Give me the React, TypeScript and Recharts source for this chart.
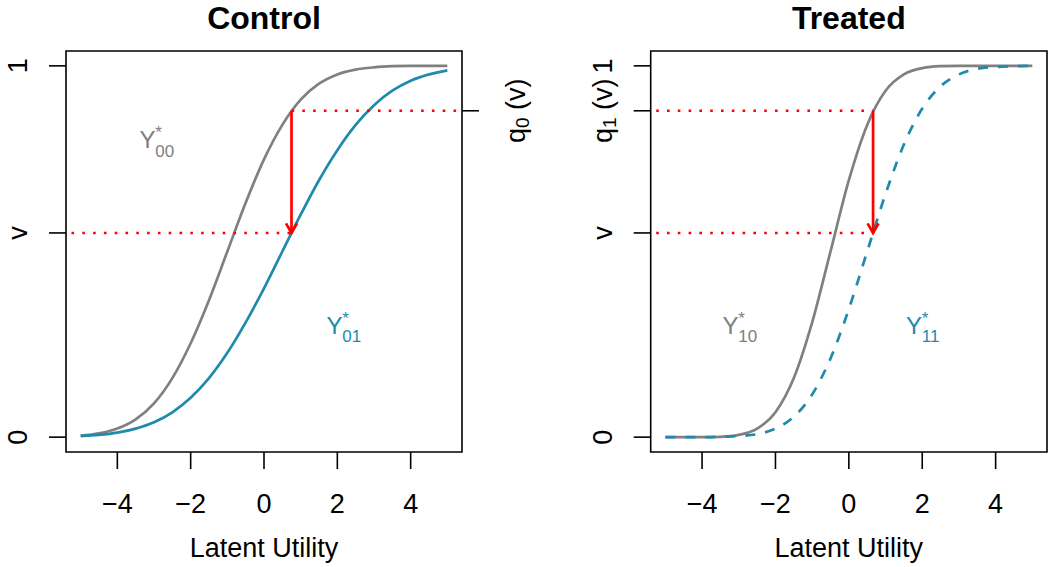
import React from 'react';
import { LineChart, Line, XAxis, YAxis, ReferenceLine, ReferenceArea, ReferenceDot } from 'recharts';

// latent utility grid
const xs = [-5, -4.5, -4, -3.5, -3, -2.5, -2, -1.5, -1, -0.5, 0, 0.5, 1, 1.5, 2, 2.5, 3, 3.5, 4, 4.5, 5];

// control group CDFs
const y00 = [0.004, 0.010, 0.023, 0.048, 0.091, 0.159, 0.253, 0.369, 0.500, 0.631, 0.748, 0.841, 0.909, 0.952, 0.977, 0.990, 0.996, 0.999, 1.0, 1.0, 1.0];
const y01 = [0.003, 0.006, 0.012, 0.023, 0.040, 0.067, 0.106, 0.159, 0.227, 0.309, 0.401, 0.500, 0.599, 0.692, 0.773, 0.841, 0.894, 0.933, 0.960, 0.977, 0.988];

// treated group CDFs
const y10 = [0.0, 0.0, 0.0, 0.001, 0.006, 0.023, 0.067, 0.159, 0.309, 0.500, 0.692, 0.841, 0.933, 0.977, 0.994, 0.999, 1.0, 1.0, 1.0, 1.0, 1.0];
const y11 = [0.0, 0.0, 0.0, 0.001, 0.003, 0.008, 0.023, 0.055, 0.115, 0.212, 0.345, 0.500, 0.655, 0.788, 0.885, 0.945, 0.977, 0.992, 0.997, 0.999, 1.0];

const xTicks = [-4, -2, 0, 2, 4];
const V = 0.55;
const Q0 = 0.879;
const Q1 = 0.879;
const arrowX0 = 0.75;
const arrowX1 = 0.66;
const lineStart = -5.25;
const lineEnd = 5.25;

const controlData = xs.map((x, i) => ({ x, y00: y00[i], y01: y01[i] }));
const treatedData = xs.map((x, i) => ({ x, y10: y10[i], y11: y11[i] }));

const FONT = '"Liberation Sans", Arial, Helvetica, sans-serif';
const GRAY = '#808080';
const BLUE = '#1f8aab';
const RED = '#ff0000';
const XDOM: [number, number] = [-5.4, 5.4];
const YDOM: [number, number] = [-0.04, 1.04];

const fmtX = (v: number) => (v < 0 ? '\u2212' + Math.abs(v) : String(v));

const XTick = (props: any) => {
  const { x, y, payload } = props;
  return (
    <text x={x} y={y + 44} textAnchor="middle" fontSize={27} fill="#000">
      {fmtX(payload.value)}
    </text>
  );
};

const yLabel = (value: number, sub: string) => {
  if (value === 0) return <tspan>0</tspan>;
  if (value === 1) return <tspan>1</tspan>;
  if (value === V) return <tspan>v</tspan>;
  return (
    <>
      <tspan>q</tspan>
      <tspan fontSize={19} dy={4}>{sub}</tspan>
      <tspan dy={-4}> (v)</tspan>
    </>
  );
};

const makeYTick = (shift: number, sub: string) => (props: any) => {
  const { x, y, payload } = props;
  const bx = x + shift;
  return (
    <text x={bx} y={y} textAnchor="middle" fontSize={27} fill="#000" transform={`rotate(-90, ${bx}, ${y})`}>
      {yLabel(payload.value, sub)}
    </text>
  );
};

const Arrow = (props: any) => {
  const { x1, y1, x2, y2 } = props;
  return (
    <g stroke={RED} strokeWidth={2.7} fill="none">
      <line x1={x1} y1={y1} x2={x2} y2={y2} />
      <polyline points={`${x2 - 5.5},${y2 - 9.5} ${x2},${y2} ${x2 + 5.5},${y2 - 9.5}`} />
    </g>
  );
};

const curveLabel = (sub: string, color: string) => (props: any) => {
  const { cx, cy } = props;
  return (
    <g fill={color}>
      <text x={cx - 16.3} y={cy + 8.2} fontSize={24}>Y</text>
      <text x={cx - 0.5} y={cy + 16.6} fontSize={17}>{sub}</text>
      <text x={cx - 0.5} y={cy - 2} fontSize={17}>*</text>
    </g>
  );
};

const dotted = { stroke: RED, strokeWidth: 2.6, strokeDasharray: '2.6 8.2' };

const boxArea = (
  <ReferenceArea yAxisId="l" x1={XDOM[0]} x2={XDOM[1]} y1={YDOM[0]} y2={YDOM[1]} fill="none" stroke="#000" strokeWidth={1.6} ifOverflow="visible" />
);

const xAxisEl = (
  <XAxis
    dataKey="x"
    type="number"
    domain={XDOM}
    ticks={xTicks}
    allowDataOverflow
    axisLine={false}
    tickSize={17}
    tickMargin={0}
    tickLine={{ stroke: '#000', strokeWidth: 1.6 }}
    tick={XTick}
    height={115}
    label={{ value: 'Latent Utility', position: 'insideBottom', offset: 10, fontSize: 27, fill: '#000' }}
  />
);

const ControlPanel = () => (
  <LineChart width={555} height={567} data={controlData} margin={{ top: 51, right: 30, bottom: 0, left: 0 }}>
    {xAxisEl}
    <YAxis yAxisId="l" type="number" domain={YDOM} ticks={[0, V, 1]} allowDataOverflow axisLine={false} tickSize={17} tickMargin={0}
      tickLine={{ stroke: '#000', strokeWidth: 1.6 }} tick={makeYTick(-22, '0')} width={66} />
    <YAxis yAxisId="r" orientation="right" type="number" domain={YDOM} ticks={[Q0]} allowDataOverflow axisLine={false} tickSize={17} tickMargin={0}
      tickLine={{ stroke: '#000', strokeWidth: 1.6 }} tick={makeYTick(46, '0')} width={63} />
    <Line yAxisId="l" dataKey="y00" type="monotone" stroke={GRAY} strokeWidth={2.7} dot={false} activeDot={false} isAnimationActive={false} />
    <Line yAxisId="l" dataKey="y01" type="monotone" stroke={BLUE} strokeWidth={2.7} dot={false} activeDot={false} isAnimationActive={false} />
    <ReferenceLine yAxisId="l" segment={[{ x: lineStart, y: V }, { x: arrowX0, y: V }]} {...dotted} />
    <ReferenceLine yAxisId="l" segment={[{ x: arrowX0, y: Q0 }, { x: lineEnd, y: Q0 }]} {...dotted} />
    <ReferenceLine yAxisId="l" segment={[{ x: arrowX0, y: Q0 }, { x: arrowX0, y: V }]} shape={Arrow} />
    <ReferenceDot yAxisId="l" x={-2.95} y={0.8} r={0} shape={curveLabel('00', GRAY)} />
    <ReferenceDot yAxisId="l" x={2.15} y={0.3} r={0} shape={curveLabel('01', BLUE)} />
    {boxArea}
    <text x={264} y={29} textAnchor="middle" fontSize={32} fontWeight="bold" fill="#000">Control</text>
  </LineChart>
);

const TreatedPanel = () => (
  <LineChart width={525} height={567} data={treatedData} margin={{ top: 51, right: 3, bottom: 0, left: 0 }}>
    {xAxisEl}
    <YAxis yAxisId="l" type="number" domain={YDOM} ticks={[0, V, Q1, 1]} allowDataOverflow axisLine={false} tickSize={17} tickMargin={0}
      tickLine={{ stroke: '#000', strokeWidth: 1.6 }} tick={makeYTick(-22, '1')} width={125.7} />
    <Line yAxisId="l" dataKey="y10" type="monotone" stroke={GRAY} strokeWidth={2.7} dot={false} activeDot={false} isAnimationActive={false} />
    <Line yAxisId="l" dataKey="y11" type="monotone" stroke={BLUE} strokeWidth={2.7} strokeDasharray="10 10" dot={false} activeDot={false} isAnimationActive={false} />
    <ReferenceLine yAxisId="l" segment={[{ x: lineStart, y: V }, { x: arrowX1, y: V }]} {...dotted} />
    <ReferenceLine yAxisId="l" segment={[{ x: lineStart, y: Q1 }, { x: arrowX1, y: Q1 }]} {...dotted} />
    <ReferenceLine yAxisId="l" segment={[{ x: arrowX1, y: Q1 }, { x: arrowX1, y: V }]} shape={Arrow} />
    <ReferenceDot yAxisId="l" x={-3} y={0.3} r={0} shape={curveLabel('10', GRAY)} />
    <ReferenceDot yAxisId="l" x={2} y={0.3} r={0} shape={curveLabel('11', BLUE)} />
    {boxArea}
    <text x={323.8} y={29} textAnchor="middle" fontSize={32} fontWeight="bold" fill="#000">Treated</text>
  </LineChart>
);

export default function App() {
  return (
    <div style={{ position: 'absolute', left: 0, top: 0, width: 1050, height: 567, background: '#fff', fontFamily: FONT }}>
      <div style={{ position: 'absolute', left: 0, top: 0 }}>
        <ControlPanel />
      </div>
      <div style={{ position: 'absolute', left: 525, top: 0 }}>
        <TreatedPanel />
      </div>
    </div>
  );
}
